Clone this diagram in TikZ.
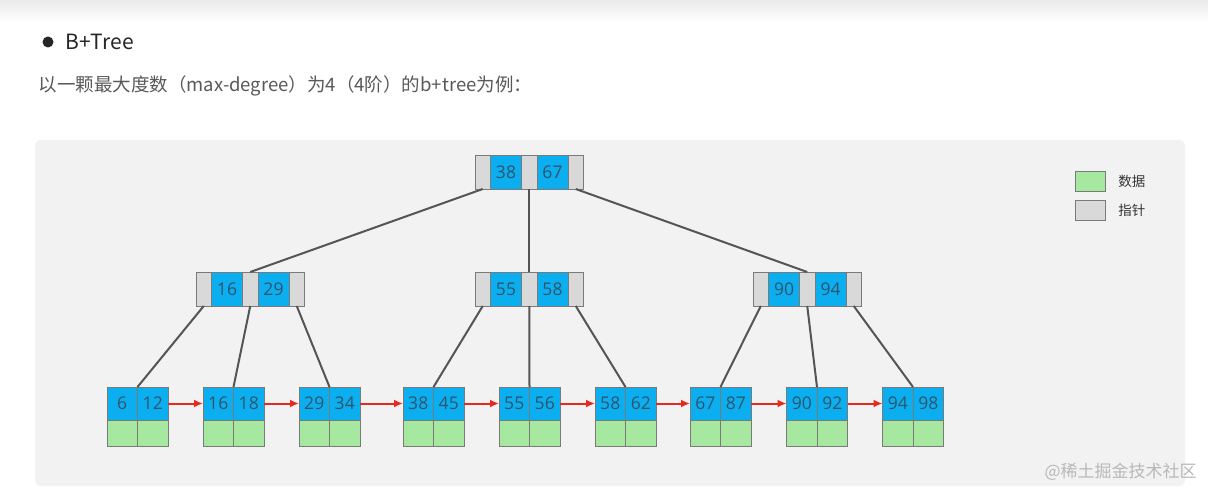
\documentclass[tikz,border=0pt]{standalone}
\usepackage{fontspec}
\setmainfont{Open Sans}
\newfontfamily\cjk{Noto Sans CJK SC}
\usetikzlibrary{arrows.meta}
\definecolor{keyblue}{HTML}{0BAFF0}
\definecolor{ptrgray}{HTML}{D9D9D9}
\definecolor{datagreen}{HTML}{A6E8A0}
\definecolor{cellline}{HTML}{7A7A7A}
\definecolor{keytext}{HTML}{30536B}
\definecolor{edgegray}{HTML}{555555}
\definecolor{linkred}{HTML}{E8281E}
\definecolor{panelgray}{HTML}{F2F2F2}
\newcommand\BTinner[5]{%
  \node[ptr,anchor=west] (#1p1) at (#2,#3) {};
  \node[key,anchor=west] (#1k1) at (#1p1.east) {#4};
  \node[ptr,anchor=west] (#1p2) at (#1k1.east) {};
  \node[key,anchor=west] (#1k2) at (#1p2.east) {#5};
  \node[ptr,anchor=west] (#1p3) at (#1k2.east) {};
}
\newcommand\BTleaf[4]{%
  \node[lkey,anchor=north west] (#1a) at (#2,387) {#3};
  \node[lkey,anchor=north west] (#1b) at (#1a.north east) {#4};
  \node[ldat,anchor=north] (#1c) at (#1a.south) {};
  \node[ldat,anchor=north] (#1d) at (#1b.south) {};
}
\begin{document}
\begin{tikzpicture}[x=1pt,y=-1pt,
  cell/.style={draw=cellline, line width=0.8pt, inner sep=0pt, outer sep=0pt,
    font=\fontsize{17.5}{17.5}\selectfont, text=keytext},
  ptr/.style={cell, fill=ptrgray, minimum width=15.5pt, minimum height=34pt},
  key/.style={cell, fill=keyblue, minimum width=31pt, minimum height=34pt},
  lkey/.style={cell, fill=keyblue, minimum width=30.5pt, minimum height=33pt},
  ldat/.style={cell, fill=datagreen, minimum width=30.5pt, minimum height=26pt},
  legendbox/.style={draw=cellline, line width=0.8pt, minimum width=30pt, minimum height=20pt, inner sep=0pt, anchor=north west},
  legendtext/.style={anchor=west, font=\cjk\fontsize{13.5}{13.5}\selectfont, text=black!80},
  treeedge/.style={draw=edgegray, line width=2pt},
  leaflink/.style={draw=linkred, line width=2pt, -{Latex[length=9pt,width=8pt]}},
]
\useasboundingbox (0,0) rectangle (1208,492);
\fill[white] (0,0) rectangle (1208,492);
\shade[top color=black!8, bottom color=white] (0,0) rectangle (1208,22);
% header
\fill[black!85] (48,42) circle (5.5);
\node[anchor=west, font=\cjk\fontsize{21}{21}\selectfont, text=black!85] (title) at (62,42) {B+Tree};
\node[anchor=west, font=\cjk\fontsize{18.5}{18.5}\selectfont, text=black!65] (sub) at (35,86) {以一颗最大度数（max-degree）为4（4阶）的b+tree为例：};
% panel
\fill[panelgray, rounded corners=6pt] (35,140) rectangle (1185,486);
% tree nodes
\BTinner{r}{475}{172}{38}{67}
\BTinner{a}{196}{289}{16}{29}
\BTinner{b}{475}{289}{55}{58}
\BTinner{c}{753}{289}{90}{94}
\BTleaf{Lf1}{107}{6}{12}
\BTleaf{Lf2}{203}{16}{18}
\BTleaf{Lf3}{299}{29}{34}
\BTleaf{Lf4}{403}{38}{45}
\BTleaf{Lf5}{499}{55}{56}
\BTleaf{Lf6}{595}{58}{62}
\BTleaf{Lf7}{690}{67}{87}
\BTleaf{Lf8}{786.5}{90}{92}
\BTleaf{Lf9}{882.5}{94}{98}
% tree edges
\draw[treeedge] (rp1.south) -- (ap2.north);
\draw[treeedge] (rp2.south) -- (bp2.north);
\draw[treeedge] (rp3.south) -- (cp2.north);
\draw[treeedge] (ap1.south) -- (Lf1a.north east);
\draw[treeedge] (ap2.south) -- (Lf2a.north east);
\draw[treeedge] (ap3.south) -- (Lf3a.north east);
\draw[treeedge] (bp1.south) -- (Lf4a.north east);
\draw[treeedge] (bp2.south) -- (Lf5a.north east);
\draw[treeedge] (bp3.south) -- (Lf6a.north east);
\draw[treeedge] (cp1.south) -- (Lf7a.north east);
\draw[treeedge] (cp2.south) -- (Lf8a.north east);
\draw[treeedge] (cp3.south) -- (Lf9a.north east);
% leaf links
\draw[leaflink] (Lf1b.east) -- (Lf2a.west);
\draw[leaflink] (Lf2b.east) -- (Lf3a.west);
\draw[leaflink] (Lf3b.east) -- (Lf4a.west);
\draw[leaflink] (Lf4b.east) -- (Lf5a.west);
\draw[leaflink] (Lf5b.east) -- (Lf6a.west);
\draw[leaflink] (Lf6b.east) -- (Lf7a.west);
\draw[leaflink] (Lf7b.east) -- (Lf8a.west);
\draw[leaflink] (Lf8b.east) -- (Lf9a.west);
% legend
\node[legendbox, fill=datagreen] (lg1) at (1075,171) {};
\node[legendtext] (lg1t) at ([xshift=9pt]lg1.east) {数据};
\node[legendbox, fill=ptrgray] (lg2) at (1075,200) {};
\node[legendtext] (lg2t) at ([xshift=9pt]lg2.east) {指针};
% watermark
\node[anchor=west, font=\cjk\fontsize{17}{17}\selectfont, text=black!28] (wm) at (1041,472) {@稀土掘金技术社区};
\end{tikzpicture}
\end{document}
